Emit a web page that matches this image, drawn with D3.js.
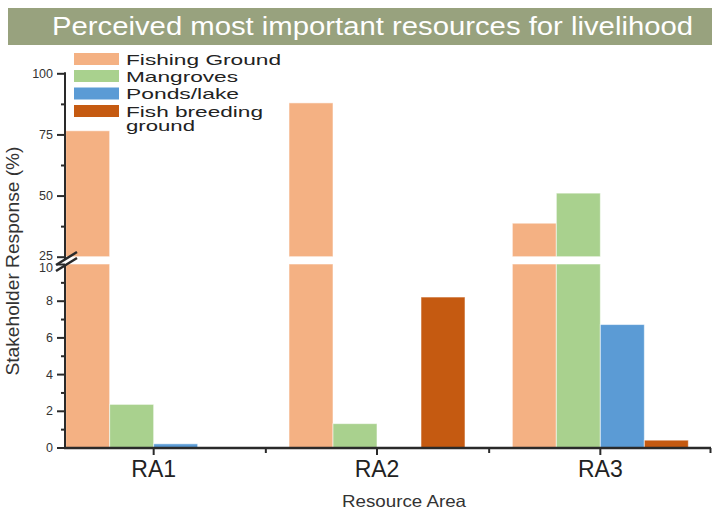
<!DOCTYPE html>
<html><head><meta charset="utf-8">
<script src="https://cdn.jsdelivr.net/npm/d3@7"></script>
<style>
body{margin:0;background:#fff}
text{font-family:"Liberation Sans",Arial,Helvetica,sans-serif}
</style>
</head><body><svg id="c" width="712" height="510"></svg>
<script>
const categories = ["RA1", "RA2", "RA3"];
const seriesNames = ["Fishing Ground", "Mangroves", "Ponds/lake", "Fish breeding ground"];
const fishingGround = [76.5, 87.9, 38.7];
const mangroves = [2.35, 1.3, 51.0];
const pondsLake = [0.2, 0, 6.7];
const fishBreeding = [0, 8.2, 0.4];
const lowerTicks = [0, 2, 4, 6, 8, 10];
const lowerMinor = [1, 3, 5, 7, 9];
const upperTicks = [25, 50, 75, 100];
const upperMinor = [37.5, 62.5, 87.5];
const colors = ["#f4b183", "#a9d18e", "#5b9bd5", "#c55a11"];

const seriesValues = [fishingGround, mangroves, pondsLake, fishBreeding];
const svg = d3.select("#c");
const axisColor = "#2a2a2a";

// title banner
svg.append("rect").attr("x", 8).attr("y", 8).attr("width", 704).attr("height", 37).attr("fill", "#98a27e");
svg.append("text").attr("x", 52).attr("y", 35).attr("fill", "#fff").attr("font-size", 26)
  .attr("textLength", 641).attr("lengthAdjust", "spacingAndGlyphs")
  .text("Perceived most important resources for livelihood");

// scales
const x = d3.scaleBand().domain(categories).range([42, 712]).padding(0);
const xs = d3.scaleBand().domain(seriesNames).range([x.bandwidth() / 2 - 88, x.bandwidth() / 2 + 88]);
const yLow = d3.scaleLinear().domain([0, 10]).range([447.5, 264]);
const yUp = d3.scaleLinear().domain([25, 100]).range([256.7, 73.3]);

// bars
const barData = [];
seriesNames.forEach((s, si) => {
  categories.forEach((c, ci) => barData.push({ s, c, v: seriesValues[si][ci], color: colors[si] }));
});
const gBars = svg.append("g");
barData.forEach(d => {
  const bx = x(d.c) + xs(d.s);
  if (d.v <= 0) return;
  const lowTop = Math.min(d.v, 10);
  gBars.append("rect").attr("x", bx).attr("width", xs.bandwidth())
    .attr("y", yLow(lowTop)).attr("height", yLow(0) - yLow(lowTop))
    .attr("fill", d.color).attr("stroke", "#fff").attr("stroke-opacity", 0.55).attr("stroke-width", 1);
  if (d.v > 25) {
    gBars.append("rect").attr("x", bx).attr("width", xs.bandwidth())
      .attr("y", yUp(d.v)).attr("height", yUp(25) - yUp(d.v))
      .attr("fill", d.color).attr("stroke", "#fff").attr("stroke-opacity", 0.55).attr("stroke-width", 1);
  }
});

// y axes
const axX = 65;
function styleAxis(g) {
  g.select(".domain").remove();
  g.selectAll("line").attr("stroke", axisColor).attr("stroke-width", 2);
  g.selectAll("text").attr("fill", "#333").attr("font-size", 12.5);
}
svg.append("g").attr("transform", `translate(${axX},0)`)
  .call(d3.axisLeft(yLow).tickValues(lowerTicks).tickSize(8).tickPadding(4)).call(styleAxis)
  .call(g => g.selectAll(".tick text").filter(d => d === 10).attr("dy", "0.62em"));
svg.append("g").attr("transform", `translate(${axX},0)`)
  .call(d3.axisLeft(yLow).tickValues(lowerMinor).tickSize(4).tickFormat("")).call(styleAxis);
svg.append("g").attr("transform", `translate(${axX},0)`)
  .call(d3.axisLeft(yUp).tickValues(upperTicks).tickSize(8).tickPadding(4)).call(styleAxis)
  .call(g => g.selectAll(".tick text").filter(d => d === 25).attr("dy", "0.2em"));
svg.append("g").attr("transform", `translate(${axX},0)`)
  .call(d3.axisLeft(yUp).tickValues(upperMinor).tickSize(4).tickFormat("")).call(styleAxis);

svg.append("line").attr("x1", axX).attr("x2", axX).attr("y1", yUp(100) - 1).attr("y2", 259)
  .attr("stroke", axisColor).attr("stroke-width", 2);
svg.append("line").attr("x1", axX).attr("x2", axX).attr("y1", 265).attr("y2", yLow(0) + 1)
  .attr("stroke", axisColor).attr("stroke-width", 2);
// break marks
svg.append("line").attr("x1", 56).attr("y1", 265).attr("x2", 77).attr("y2", 252)
  .attr("stroke", axisColor).attr("stroke-width", 2.5);
svg.append("line").attr("x1", 56).attr("y1", 271).attr("x2", 77).attr("y2", 258)
  .attr("stroke", axisColor).attr("stroke-width", 2.5);

// x axis
const xAxisY = 448;
const gx = svg.append("g").attr("transform", `translate(0,${xAxisY})`)
  .call(d3.axisBottom(x).tickSize(7).tickPadding(6));
gx.select(".domain").remove();
gx.selectAll("line").attr("stroke", axisColor).attr("stroke-width", 2);
gx.selectAll("text").attr("fill", "#222").attr("font-size", 23);
const boundaries = categories.slice(1).map(c => x(c)).concat([710]);
svg.append("g").attr("transform", `translate(0,${xAxisY})`)
  .call(d3.axisBottom(d3.scaleLinear().domain([0, 712]).range([0, 712])).tickValues(boundaries).tickSize(5).tickFormat(""))
  .call(g => { g.select(".domain").remove(); g.selectAll("line").attr("stroke", axisColor).attr("stroke-width", 2); });
svg.append("line").attr("x1", axX - 1).attr("x2", 711).attr("y1", xAxisY).attr("y2", xAxisY)
  .attr("stroke", axisColor).attr("stroke-width", 2.5);

// axis titles
svg.append("text").attr("x", 404).attr("y", 507).attr("text-anchor", "middle").attr("font-size", 16.5)
  .attr("fill", "#333").attr("textLength", 124).attr("lengthAdjust", "spacingAndGlyphs").text("Resource Area");
svg.append("text").attr("transform", "translate(19,261) rotate(-90)").attr("text-anchor", "middle")
  .attr("font-size", 18).attr("fill", "#333").attr("textLength", 229).attr("lengthAdjust", "spacingAndGlyphs")
  .text("Stakeholder Response (%)");

// legend
const legendLabels = [["Fishing Ground"], ["Mangroves"], ["Ponds/lake"], ["Fish breeding", "ground"]];
const legendWidths = [[155], [112], [113], [137, 69]];
const legendY = [53, 70, 87.5, 105];
seriesNames.forEach((s, i) => {
  svg.append("rect").attr("x", 74).attr("y", legendY[i]).attr("width", 45).attr("height", 12).attr("fill", colors[i]);
  legendLabels[i].forEach((line, li) => {
    svg.append("text").attr("x", 126).attr("y", legendY[i] + 11.5 + li * 14.5).attr("font-size", 15)
      .attr("fill", "#222").attr("textLength", legendWidths[i][li]).attr("lengthAdjust", "spacingAndGlyphs")
      .text(line);
  });
});
</script>
</body></html>
